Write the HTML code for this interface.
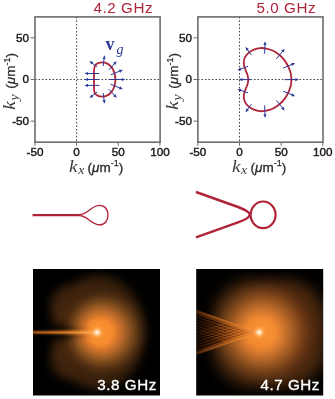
<!DOCTYPE html>
<html><head><meta charset="utf-8"><title>figure</title>
<style>
html,body{margin:0;padding:0;background:#fff;}
svg{display:block;}
.tk{font-family:"Liberation Sans",sans-serif;font-size:11.7px;fill:#1a1a1a;stroke:#1a1a1a;stroke-width:0.42px;}
.ax{fill:#2a2a2a;}
.mi{font-family:"Liberation Serif",serif;font-style:italic;font-size:16px;fill:#3c3c3c;}
.ms{font-family:"Liberation Serif",serif;font-style:italic;font-size:11.5px;fill:#3c3c3c;}
.un{font-family:"Liberation Sans",sans-serif;font-size:13.5px;stroke:#2a2a2a;stroke-width:0.3px;}
.sup{font-family:"Liberation Sans",sans-serif;font-size:9px;stroke:#2a2a2a;stroke-width:0.25px;}
.ti{font-family:"Liberation Sans",sans-serif;font-size:15.2px;letter-spacing:0.6px;fill:#b0243a;}
.lb{font-family:"Liberation Sans",sans-serif;font-size:15.2px;letter-spacing:0.55px;fill:#fff;stroke:#fff;stroke-width:0.35px;}
</style></head><body>
<svg width="335" height="399" viewBox="0 0 335 399">
<defs><radialGradient id="gp1" cx="0.5" cy="0.5" r="0.5" fx="0.4205" fy="0.5"><stop offset="0.0000" stop-color="#f67c23"/><stop offset="0.0208" stop-color="#f67c23"/><stop offset="0.0417" stop-color="#f67c23"/><stop offset="0.0625" stop-color="#f67c23"/><stop offset="0.0833" stop-color="#f67b23"/><stop offset="0.1042" stop-color="#f67b23"/><stop offset="0.1250" stop-color="#f57b23"/><stop offset="0.1458" stop-color="#f57a23"/><stop offset="0.1667" stop-color="#f57a23"/><stop offset="0.1875" stop-color="#f47923"/><stop offset="0.2083" stop-color="#f47822"/><stop offset="0.2292" stop-color="#f37822"/><stop offset="0.2500" stop-color="#f27622"/><stop offset="0.2708" stop-color="#ef7422"/><stop offset="0.2917" stop-color="#eb7121"/><stop offset="0.3125" stop-color="#e56e21"/><stop offset="0.3333" stop-color="#de6a20"/><stop offset="0.3542" stop-color="#d56520"/><stop offset="0.3750" stop-color="#cd601f"/><stop offset="0.3958" stop-color="#c55c1f"/><stop offset="0.4167" stop-color="#bb581e"/><stop offset="0.4375" stop-color="#b3551e"/><stop offset="0.4583" stop-color="#aa521d"/><stop offset="0.4792" stop-color="#a14e1d"/><stop offset="0.5000" stop-color="#984b1c"/><stop offset="0.5208" stop-color="#8f481b"/><stop offset="0.5417" stop-color="#864419"/><stop offset="0.5625" stop-color="#7e4018"/><stop offset="0.5833" stop-color="#763d17"/><stop offset="0.6042" stop-color="#6c3915"/><stop offset="0.6250" stop-color="#643514"/><stop offset="0.6458" stop-color="#5c3112"/><stop offset="0.6667" stop-color="#522d10"/><stop offset="0.6875" stop-color="#4a290f"/><stop offset="0.7083" stop-color="#42250e"/><stop offset="0.7292" stop-color="#3a200c"/><stop offset="0.7500" stop-color="#331d0b"/><stop offset="0.7708" stop-color="#2c190a"/><stop offset="0.7917" stop-color="#251509"/><stop offset="0.8125" stop-color="#1f1208"/><stop offset="0.8333" stop-color="#1a0f07"/><stop offset="0.8542" stop-color="#140c05"/><stop offset="0.8750" stop-color="#100a04"/><stop offset="0.8958" stop-color="#0d0704"/><stop offset="0.9167" stop-color="#090503"/><stop offset="0.9375" stop-color="#070402"/><stop offset="0.9583" stop-color="#050301"/><stop offset="0.9792" stop-color="#030201"/><stop offset="1.0000" stop-color="#000000"/></radialGradient><radialGradient id="ghalo" gradientUnits="userSpaceOnUse" cx="89.20" cy="332.40" r="62"><stop offset="0.0000" stop-color="#4c2a0e"/><stop offset="0.0208" stop-color="#4c2a0e"/><stop offset="0.0417" stop-color="#4c2a0e"/><stop offset="0.0625" stop-color="#4b2a0e"/><stop offset="0.0833" stop-color="#4b2a0e"/><stop offset="0.1042" stop-color="#4b2a0e"/><stop offset="0.1250" stop-color="#4b290e"/><stop offset="0.1458" stop-color="#4b290e"/><stop offset="0.1667" stop-color="#4b290e"/><stop offset="0.1875" stop-color="#4a290e"/><stop offset="0.2083" stop-color="#4a290e"/><stop offset="0.2292" stop-color="#4a290e"/><stop offset="0.2500" stop-color="#4a290e"/><stop offset="0.2708" stop-color="#4a290e"/><stop offset="0.2917" stop-color="#49290e"/><stop offset="0.3125" stop-color="#49290e"/><stop offset="0.3333" stop-color="#49290e"/><stop offset="0.3542" stop-color="#49280e"/><stop offset="0.3750" stop-color="#49280e"/><stop offset="0.3958" stop-color="#48280e"/><stop offset="0.4167" stop-color="#48280e"/><stop offset="0.4375" stop-color="#48280e"/><stop offset="0.4583" stop-color="#47280e"/><stop offset="0.4792" stop-color="#46270e"/><stop offset="0.5000" stop-color="#46270e"/><stop offset="0.5208" stop-color="#45260e"/><stop offset="0.5417" stop-color="#44260d"/><stop offset="0.5625" stop-color="#43250d"/><stop offset="0.5833" stop-color="#42250d"/><stop offset="0.6042" stop-color="#41240d"/><stop offset="0.6250" stop-color="#40240d"/><stop offset="0.6458" stop-color="#3f230d"/><stop offset="0.6667" stop-color="#3e230d"/><stop offset="0.6875" stop-color="#3d220c"/><stop offset="0.7083" stop-color="#3c220c"/><stop offset="0.7292" stop-color="#3b210c"/><stop offset="0.7500" stop-color="#3a210c"/><stop offset="0.7708" stop-color="#39210c"/><stop offset="0.7917" stop-color="#38200c"/><stop offset="0.8125" stop-color="#381f0b"/><stop offset="0.8333" stop-color="#371f0b"/><stop offset="0.8542" stop-color="#361e0b"/><stop offset="0.8750" stop-color="#351e0b"/><stop offset="0.8958" stop-color="#341e0b"/><stop offset="0.9167" stop-color="#331d0b"/><stop offset="0.9375" stop-color="#331d0b"/><stop offset="0.9583" stop-color="#321c0a"/><stop offset="0.9792" stop-color="#311c0a"/><stop offset="1.0000" stop-color="#311b0a"/></radialGradient><radialGradient id="gp2" ><stop offset="0.0000" stop-color="#ee6f20"/><stop offset="0.0208" stop-color="#ee6f20"/><stop offset="0.0417" stop-color="#ee6f20"/><stop offset="0.0625" stop-color="#ee6f20"/><stop offset="0.0833" stop-color="#ee6f20"/><stop offset="0.1042" stop-color="#ee6f20"/><stop offset="0.1250" stop-color="#ed6f20"/><stop offset="0.1458" stop-color="#ed6e20"/><stop offset="0.1667" stop-color="#ed6e20"/><stop offset="0.1875" stop-color="#ed6e20"/><stop offset="0.2083" stop-color="#ec6d20"/><stop offset="0.2292" stop-color="#e96c20"/><stop offset="0.2500" stop-color="#e66b20"/><stop offset="0.2708" stop-color="#e2691f"/><stop offset="0.2917" stop-color="#db661f"/><stop offset="0.3125" stop-color="#d4631f"/><stop offset="0.3333" stop-color="#cc5f1f"/><stop offset="0.3542" stop-color="#c35c1f"/><stop offset="0.3750" stop-color="#ba581e"/><stop offset="0.3958" stop-color="#b2551e"/><stop offset="0.4167" stop-color="#a8511d"/><stop offset="0.4375" stop-color="#9f4e1d"/><stop offset="0.4583" stop-color="#974a1c"/><stop offset="0.4792" stop-color="#8d461a"/><stop offset="0.5000" stop-color="#854319"/><stop offset="0.5208" stop-color="#7c4018"/><stop offset="0.5417" stop-color="#733c16"/><stop offset="0.5625" stop-color="#6b3815"/><stop offset="0.5833" stop-color="#633513"/><stop offset="0.6042" stop-color="#5b3112"/><stop offset="0.6250" stop-color="#532d10"/><stop offset="0.6458" stop-color="#4c2a0f"/><stop offset="0.6667" stop-color="#44260e"/><stop offset="0.6875" stop-color="#3d220c"/><stop offset="0.7083" stop-color="#371f0b"/><stop offset="0.7292" stop-color="#301b0a"/><stop offset="0.7500" stop-color="#2a1809"/><stop offset="0.7708" stop-color="#251509"/><stop offset="0.7917" stop-color="#1f1208"/><stop offset="0.8125" stop-color="#1a0f07"/><stop offset="0.8333" stop-color="#160d06"/><stop offset="0.8542" stop-color="#110a05"/><stop offset="0.8750" stop-color="#0d0804"/><stop offset="0.8958" stop-color="#0a0603"/><stop offset="0.9167" stop-color="#070402"/><stop offset="0.9375" stop-color="#050301"/><stop offset="0.9583" stop-color="#030201"/><stop offset="0.9792" stop-color="#020101"/><stop offset="1.0000" stop-color="#000000"/></radialGradient><radialGradient id="ghalo2" gradientUnits="userSpaceOnUse" cx="269.30" cy="332.40" r="60"><stop offset="0.0000" stop-color="#7f3c15"/><stop offset="0.0208" stop-color="#7f3b15"/><stop offset="0.0417" stop-color="#7e3b15"/><stop offset="0.0625" stop-color="#7d3b15"/><stop offset="0.0833" stop-color="#7c3a14"/><stop offset="0.1042" stop-color="#7b3a14"/><stop offset="0.1250" stop-color="#7a3914"/><stop offset="0.1458" stop-color="#793914"/><stop offset="0.1667" stop-color="#783814"/><stop offset="0.1875" stop-color="#783814"/><stop offset="0.2083" stop-color="#773713"/><stop offset="0.2292" stop-color="#763713"/><stop offset="0.2500" stop-color="#753613"/><stop offset="0.2708" stop-color="#743613"/><stop offset="0.2917" stop-color="#733513"/><stop offset="0.3125" stop-color="#723513"/><stop offset="0.3333" stop-color="#713412"/><stop offset="0.3542" stop-color="#703412"/><stop offset="0.3750" stop-color="#6f3312"/><stop offset="0.3958" stop-color="#6e3312"/><stop offset="0.4167" stop-color="#6c3212"/><stop offset="0.4375" stop-color="#6b3211"/><stop offset="0.4583" stop-color="#693111"/><stop offset="0.4792" stop-color="#683011"/><stop offset="0.5000" stop-color="#663011"/><stop offset="0.5208" stop-color="#642f10"/><stop offset="0.5417" stop-color="#632e10"/><stop offset="0.5625" stop-color="#612d10"/><stop offset="0.5833" stop-color="#5f2d0f"/><stop offset="0.6042" stop-color="#5d2c0f"/><stop offset="0.6250" stop-color="#5b2c0f"/><stop offset="0.6458" stop-color="#5a2b0f"/><stop offset="0.6667" stop-color="#582b0f"/><stop offset="0.6875" stop-color="#562a0f"/><stop offset="0.7083" stop-color="#542a0f"/><stop offset="0.7292" stop-color="#522a0e"/><stop offset="0.7500" stop-color="#50290e"/><stop offset="0.7708" stop-color="#4e290e"/><stop offset="0.7917" stop-color="#4c280e"/><stop offset="0.8125" stop-color="#4a280e"/><stop offset="0.8333" stop-color="#48270e"/><stop offset="0.8542" stop-color="#46270e"/><stop offset="0.8750" stop-color="#44260d"/><stop offset="0.8958" stop-color="#43250d"/><stop offset="0.9167" stop-color="#41240d"/><stop offset="0.9375" stop-color="#3f240d"/><stop offset="0.9583" stop-color="#3e230d"/><stop offset="0.9792" stop-color="#3d220c"/><stop offset="1.0000" stop-color="#3c220c"/></radialGradient>
<radialGradient id="globe"><stop offset="0" stop-color="#5a2a0a"/><stop offset="0.4" stop-color="#482008"/><stop offset="0.7" stop-color="#2e1405"/><stop offset="0.88" stop-color="#100600"/><stop offset="1" stop-color="#000"/></radialGradient>
<radialGradient id="gcore"><stop offset="0" stop-color="#fff" stop-opacity="1"/><stop offset="0.2" stop-color="#ffe6c0" stop-opacity="0.95"/><stop offset="0.45" stop-color="#ffc080" stop-opacity="0.7"/><stop offset="0.75" stop-color="#ffa448" stop-opacity="0.35"/><stop offset="1" stop-color="#fa8c2c" stop-opacity="0"/></radialGradient>
<linearGradient id="lineg" x1="0" x2="1"><stop offset="0" stop-color="#c4661e"/><stop offset="0.5" stop-color="#e27c26"/><stop offset="0.85" stop-color="#f89434"/><stop offset="1" stop-color="#ffb060"/></linearGradient>
<linearGradient id="lineg2" x1="0" x2="1"><stop offset="0" stop-color="#d87424"/><stop offset="0.6" stop-color="#f89838"/><stop offset="0.9" stop-color="#ffc888"/><stop offset="1" stop-color="#fff0d0"/></linearGradient>
<linearGradient id="fang" gradientUnits="userSpaceOnUse" x1="196" x2="260"><stop offset="0" stop-color="#080300"/><stop offset="0.3" stop-color="#2e1204"/><stop offset="0.55" stop-color="#7a3a10"/><stop offset="0.78" stop-color="#c4661e"/><stop offset="1" stop-color="#f08a30"/></linearGradient>
<linearGradient id="fanl" gradientUnits="userSpaceOnUse" x1="196" x2="260"><stop offset="0" stop-color="#3a1c08"/><stop offset="0.3" stop-color="#9a4c16"/><stop offset="0.6" stop-color="#e07c28"/><stop offset="1" stop-color="#ffa850"/></linearGradient>
<linearGradient id="fanb" gradientUnits="userSpaceOnUse" x1="196" x2="260"><stop offset="0" stop-color="#5a2c0c"/><stop offset="0.25" stop-color="#b05c1c"/><stop offset="0.6" stop-color="#ec862c"/><stop offset="1" stop-color="#fca050"/></linearGradient>
<filter id="blur5" color-interpolation-filters="sRGB" x="-50%" y="-50%" width="200%" height="200%"><feGaussianBlur stdDeviation="3.5"/></filter>
<filter id="blur03" color-interpolation-filters="sRGB" filterUnits="userSpaceOnUse" x="190" y="300" width="80" height="70"><feGaussianBlur stdDeviation="0.35"/></filter>
<filter id="blur05" color-interpolation-filters="sRGB" filterUnits="userSpaceOnUse" x="190" y="300" width="80" height="70"><feGaussianBlur stdDeviation="0.8"/></filter>
<filter id="blurH" color-interpolation-filters="sRGB" filterUnits="userSpaceOnUse" x="0" y="235" width="200" height="200"><feGaussianBlur stdDeviation="4.8"/></filter>
<filter id="blurH2" color-interpolation-filters="sRGB" filterUnits="userSpaceOnUse" x="150" y="225" width="220" height="220"><feGaussianBlur stdDeviation="6.5"/></filter>
<filter id="blur1" color-interpolation-filters="sRGB" x="-10%" y="-200%" width="120%" height="500%"><feGaussianBlur stdDeviation="1.0"/></filter>
</defs>
<line x1="76.60" y1="16.90" x2="76.60" y2="142.20" stroke="#222" stroke-width="0.85" stroke-dasharray="1.6,1.9"/><line x1="35.00" y1="79.50" x2="160.10" y2="79.50" stroke="#222" stroke-width="0.85" stroke-dasharray="1.6,1.9"/><rect x="35.00" y="16.90" width="125.10" height="125.30" fill="none" stroke="#6c6c6c" stroke-width="1.6"/><line x1="34.95" y1="142.20" x2="34.95" y2="145.80" stroke="#6c6c6c" stroke-width="1"/><text x="34.95" y="156.3" text-anchor="middle" class="tk">-50</text><line x1="76.60" y1="142.20" x2="76.60" y2="145.80" stroke="#6c6c6c" stroke-width="1"/><text x="76.60" y="156.3" text-anchor="middle" class="tk">0</text><line x1="118.25" y1="142.20" x2="118.25" y2="145.80" stroke="#6c6c6c" stroke-width="1"/><text x="118.25" y="156.3" text-anchor="middle" class="tk">50</text><line x1="159.90" y1="142.20" x2="159.90" y2="145.80" stroke="#6c6c6c" stroke-width="1"/><text x="159.90" y="156.3" text-anchor="middle" class="tk">100</text><line x1="30.60" y1="121.15" x2="35.00" y2="121.15" stroke="#6c6c6c" stroke-width="1"/><text x="29.10" y="124.85" text-anchor="end" class="tk">-50</text><line x1="30.60" y1="79.50" x2="35.00" y2="79.50" stroke="#6c6c6c" stroke-width="1"/><text x="29.10" y="83.20" text-anchor="end" class="tk">0</text><line x1="30.60" y1="37.85" x2="35.00" y2="37.85" stroke="#6c6c6c" stroke-width="1"/><text x="29.10" y="41.55" text-anchor="end" class="tk">50</text><g transform="translate(69.00,171.5)"><text transform="scale(1.2,1)" x="0" y="0" class="ax mi">k</text><text transform="translate(9.2,2.4) scale(1.2,1)" x="0" y="0" class="ax ms">x</text><text x="18.60" y="0" class="ax un">(<tspan style="font-style:italic">μ</tspan>m<tspan class="sup" dy="-5.5">-1</tspan><tspan class="un" dy="5.5">)</tspan></text></g><g transform="translate(15.30,109.7) rotate(-90)"><text transform="scale(1.2,1)" x="0" y="0" class="ax mi">k</text><text transform="translate(9.2,2.4) scale(1.2,1)" x="0" y="0" class="ax ms">y</text><text x="21.00" y="0" class="ax un">(<tspan style="font-style:italic">μ</tspan>m<tspan class="sup" dy="-5.5">-1</tspan><tspan class="un" dy="5.5">)</tspan></text></g><text x="93.40" y="13.1" class="ti">4.2 GHz</text>
<line x1="239.50" y1="16.90" x2="239.50" y2="142.20" stroke="#222" stroke-width="0.85" stroke-dasharray="1.6,1.9"/><line x1="197.90" y1="79.50" x2="323.00" y2="79.50" stroke="#222" stroke-width="0.85" stroke-dasharray="1.6,1.9"/><rect x="197.90" y="16.90" width="125.10" height="125.30" fill="none" stroke="#6c6c6c" stroke-width="1.6"/><line x1="197.85" y1="142.20" x2="197.85" y2="145.80" stroke="#6c6c6c" stroke-width="1"/><text x="197.85" y="156.3" text-anchor="middle" class="tk">-50</text><line x1="239.50" y1="142.20" x2="239.50" y2="145.80" stroke="#6c6c6c" stroke-width="1"/><text x="239.50" y="156.3" text-anchor="middle" class="tk">0</text><line x1="281.15" y1="142.20" x2="281.15" y2="145.80" stroke="#6c6c6c" stroke-width="1"/><text x="281.15" y="156.3" text-anchor="middle" class="tk">50</text><line x1="322.80" y1="142.20" x2="322.80" y2="145.80" stroke="#6c6c6c" stroke-width="1"/><text x="322.80" y="156.3" text-anchor="middle" class="tk">100</text><line x1="193.50" y1="121.15" x2="197.90" y2="121.15" stroke="#6c6c6c" stroke-width="1"/><text x="192.00" y="124.85" text-anchor="end" class="tk">-50</text><line x1="193.50" y1="79.50" x2="197.90" y2="79.50" stroke="#6c6c6c" stroke-width="1"/><text x="192.00" y="83.20" text-anchor="end" class="tk">0</text><line x1="193.50" y1="37.85" x2="197.90" y2="37.85" stroke="#6c6c6c" stroke-width="1"/><text x="192.00" y="41.55" text-anchor="end" class="tk">50</text><g transform="translate(231.90,171.5)"><text transform="scale(1.2,1)" x="0" y="0" class="ax mi">k</text><text transform="translate(9.2,2.4) scale(1.2,1)" x="0" y="0" class="ax ms">x</text><text x="18.60" y="0" class="ax un">(<tspan style="font-style:italic">μ</tspan>m<tspan class="sup" dy="-5.5">-1</tspan><tspan class="un" dy="5.5">)</tspan></text></g><g transform="translate(178.20,109.7) rotate(-90)"><text transform="scale(1.2,1)" x="0" y="0" class="ax mi">k</text><text transform="translate(9.2,2.4) scale(1.2,1)" x="0" y="0" class="ax ms">y</text><text x="21.00" y="0" class="ax un">(<tspan style="font-style:italic">μ</tspan>m<tspan class="sup" dy="-5.5">-1</tspan><tspan class="un" dy="5.5">)</tspan></text></g><text x="256.40" y="13.1" class="ti">5.0 GHz</text>
<path d="M94,79.5 L94,70 C94,65 97,62.3 102,62.3 C110,62.3 115.4,70 115.4,79.5 C115.4,89 110,96.7 102,96.7 C97,96.7 94,94 94,89 Z" fill="none" stroke="#b0243a" stroke-width="1.8"/>
<line x1="99.40" y1="73.50" x2="87.50" y2="73.50" stroke="#2b3a96" stroke-width="1.00"/><polygon points="84.40,73.50 88.00,71.90 88.00,75.10" fill="#2b3a96"/>
<line x1="99.40" y1="79.50" x2="87.50" y2="79.50" stroke="#2b3a96" stroke-width="1.00"/><polygon points="84.40,79.50 88.00,77.90 88.00,81.10" fill="#2b3a96"/>
<line x1="99.40" y1="85.40" x2="87.50" y2="85.40" stroke="#2b3a96" stroke-width="1.00"/><polygon points="84.40,85.40 88.00,83.80 88.00,87.00" fill="#2b3a96"/>
<line x1="97.00" y1="67.00" x2="91.92" y2="62.94" stroke="#2b3a96" stroke-width="1.00"/><polygon points="89.50,61.00 93.31,62.00 91.31,64.50" fill="#2b3a96"/>
<line x1="103.20" y1="66.00" x2="104.13" y2="58.38" stroke="#2b3a96" stroke-width="1.00"/><polygon points="104.50,55.30 105.65,59.07 102.48,58.68" fill="#2b3a96"/>
<line x1="108.80" y1="69.80" x2="114.59" y2="63.57" stroke="#2b3a96" stroke-width="1.00"/><polygon points="116.70,61.30 115.42,65.03 113.08,62.85" fill="#2b3a96"/>
<line x1="110.70" y1="74.80" x2="120.03" y2="70.98" stroke="#2b3a96" stroke-width="1.00"/><polygon points="122.90,69.80 120.18,72.65 118.96,69.68" fill="#2b3a96"/>
<line x1="109.80" y1="79.50" x2="122.30" y2="79.50" stroke="#2b3a96" stroke-width="1.00"/><polygon points="125.40,79.50 121.80,81.10 121.80,77.90" fill="#2b3a96"/>
<line x1="110.70" y1="84.20" x2="120.03" y2="88.02" stroke="#2b3a96" stroke-width="1.00"/><polygon points="122.90,89.20 118.96,89.32 120.18,86.35" fill="#2b3a96"/>
<line x1="108.80" y1="89.20" x2="114.59" y2="95.43" stroke="#2b3a96" stroke-width="1.00"/><polygon points="116.70,97.70 113.08,96.15 115.42,93.97" fill="#2b3a96"/>
<line x1="103.20" y1="93.00" x2="104.13" y2="100.62" stroke="#2b3a96" stroke-width="1.00"/><polygon points="104.50,103.70 102.48,100.32 105.65,99.93" fill="#2b3a96"/>
<line x1="97.00" y1="92.00" x2="91.92" y2="96.06" stroke="#2b3a96" stroke-width="1.00"/><polygon points="89.50,98.00 91.31,94.50 93.31,97.00" fill="#2b3a96"/>
<text x="105.5" y="50.2" fill="#2b3a96" style="font-family:'Liberation Serif',serif;font-weight:bold;font-size:18px">v</text>
<text x="116.6" y="53.6" fill="#2b3a96" style="font-family:'Liberation Serif',serif;font-style:italic;font-size:14px">g</text>
<path d="M248.31,79.62 C248.31,78.12 247.93,76.49 247.56,75.11 C247.18,73.73 246.60,72.82 246.05,71.35 C245.51,69.89 244.67,67.89 244.30,66.34 C243.92,64.80 243.67,63.63 243.80,62.08 C243.92,60.53 244.21,58.65 245.05,57.07 C245.89,55.48 247.35,53.81 248.81,52.56 C250.27,51.30 251.94,50.30 253.82,49.55 C255.70,48.80 258.00,48.21 260.09,48.05 C262.18,47.88 264.26,48.13 266.35,48.55 C268.44,48.96 270.53,49.55 272.62,50.55 C274.71,51.55 276.92,52.97 278.88,54.56 C280.85,56.15 282.85,58.11 284.40,60.08 C285.94,62.04 287.11,64.17 288.16,66.34 C289.20,68.51 290.12,70.89 290.66,73.11 C291.21,75.32 291.42,77.45 291.42,79.62 C291.42,81.80 291.21,83.93 290.66,86.14 C290.12,88.35 289.20,90.74 288.16,92.91 C287.11,95.08 285.94,97.21 284.40,99.17 C282.85,101.14 280.85,103.10 278.88,104.69 C276.92,106.27 274.71,107.69 272.62,108.70 C270.53,109.70 268.44,110.28 266.35,110.70 C264.26,111.12 262.18,111.37 260.09,111.20 C258.00,111.04 255.70,110.45 253.82,109.70 C251.94,108.95 250.27,107.94 248.81,106.69 C247.35,105.44 245.89,103.77 245.05,102.18 C244.21,100.59 243.92,98.71 243.80,97.17 C243.67,95.62 243.92,94.45 244.30,92.91 C244.67,91.36 245.51,89.36 246.05,87.89 C246.60,86.43 247.18,85.51 247.56,84.14 C247.93,82.76 248.31,81.13 248.31,79.62 Z" fill="none" stroke="#b0243a" stroke-width="1.8"/>
<line x1="251.32" y1="55.06" x2="247.36" y2="49.56" stroke="#2b3a96" stroke-width="1.00"/><polygon points="245.55,47.04 248.95,49.03 246.35,50.90" fill="#2b3a96"/>
<line x1="251.32" y1="104.19" x2="247.36" y2="109.69" stroke="#2b3a96" stroke-width="1.00"/><polygon points="245.55,112.21 246.35,108.35 248.95,110.22" fill="#2b3a96"/>
<line x1="264.60" y1="53.81" x2="264.98" y2="44.38" stroke="#2b3a96" stroke-width="1.00"/><polygon points="265.10,41.28 266.56,44.94 263.36,44.81" fill="#2b3a96"/>
<line x1="264.60" y1="105.44" x2="264.98" y2="114.87" stroke="#2b3a96" stroke-width="1.00"/><polygon points="265.10,117.97 263.36,114.44 266.56,114.31" fill="#2b3a96"/>
<line x1="276.38" y1="58.82" x2="282.68" y2="51.19" stroke="#2b3a96" stroke-width="1.00"/><polygon points="284.65,48.80 283.59,52.59 281.12,50.56" fill="#2b3a96"/>
<line x1="276.38" y1="100.43" x2="282.68" y2="108.06" stroke="#2b3a96" stroke-width="1.00"/><polygon points="284.65,110.45 281.12,108.69 283.59,106.66" fill="#2b3a96"/>
<line x1="283.15" y1="68.10" x2="292.31" y2="64.28" stroke="#2b3a96" stroke-width="1.00"/><polygon points="295.18,63.08 292.47,65.94 291.24,62.99" fill="#2b3a96"/>
<line x1="283.15" y1="91.15" x2="292.31" y2="94.97" stroke="#2b3a96" stroke-width="1.00"/><polygon points="295.18,96.17 291.24,96.26 292.47,93.30" fill="#2b3a96"/>
<line x1="284.65" y1="79.62" x2="295.83" y2="79.62" stroke="#2b3a96" stroke-width="1.00"/><polygon points="298.93,79.62 295.33,81.22 295.33,78.02" fill="#2b3a96"/>
<line x1="248.06" y1="66.34" x2="240.45" y2="69.06" stroke="#2b3a96" stroke-width="1.00"/><polygon points="237.53,70.10 240.38,67.38 241.46,70.40" fill="#2b3a96"/>
<line x1="248.06" y1="92.91" x2="240.45" y2="90.19" stroke="#2b3a96" stroke-width="1.00"/><polygon points="237.53,89.15 241.46,88.85 240.38,91.87" fill="#2b3a96"/>
<line x1="251.32" y1="79.62" x2="241.88" y2="79.62" stroke="#2b3a96" stroke-width="1.00"/><polygon points="238.78,79.62 242.38,78.02 242.38,81.22" fill="#2b3a96"/>
<path d="M32.5,214.7 L79,214.7 C88,214.7 91,205.4 99.6,205.4 C105,205.4 108,209.8 108,215.1 C108,220.4 105,224.8 99.6,224.8 C91,224.8 88,215.5 79,215.5 L32.5,215.5" fill="none" stroke="#b0243a" stroke-width="1.4" stroke-linejoin="round"/>
<path d="M196,192 L238,207 C244,209.2 249.8,211.6 249.8,214.7 C249.8,217.8 244,220.2 238,222.4 L196,237.4" fill="none" stroke="#b0243a" stroke-width="2.4" stroke-linejoin="round"/>
<ellipse cx="263.1" cy="214.8" rx="12.5" ry="13.3" fill="none" stroke="#b0243a" stroke-width="2.2"/>
<clipPath id="clip33"><rect x="33.00" y="269.00" width="127.00" height="126.40"/></clipPath><g clip-path="url(#clip33)" style="isolation:isolate"><rect x="33.00" y="269.00" width="127.00" height="126.40" fill="#000"/><circle cx="105.20" cy="332.40" r="44" fill="url(#gp1)"/><polygon points="92.20,332.40 19.00,308.40 19.00,356.40" fill="#000" opacity="0.42" filter="url(#blur5)"/><g style="mix-blend-mode:screen" filter="url(#blurH)"><rect x="3.00" y="239.00" width="187.00" height="186.40" fill="#000"/><ellipse cx="98.20" cy="332.40" rx="47" ry="57" fill="url(#ghalo)"/><circle cx="72.20" cy="306.40" r="22" fill="url(#ghalo)"/><circle cx="72.20" cy="358.40" r="22" fill="url(#ghalo)"/><polygon points="83.20,332.40 19.00,313.40 19.00,351.40" fill="#000"/></g><polygon points="31.00,331.30 97.20,330.00 97.20,334.80 31.00,333.50" fill="url(#lineg)" filter="url(#blur1)" opacity="0.92"/><rect x="33.00" y="331.90" width="64.20" height="1.0" fill="url(#lineg2)" opacity="0.6"/><circle cx="97.20" cy="332.40" r="7.5" fill="url(#gcore)"/></g><text x="156.80" y="389.6" text-anchor="end" class="lb">3.8 GHz</text>
<clipPath id="clip196"><rect x="196.20" y="269.00" width="127.00" height="126.40"/></clipPath><g clip-path="url(#clip196)" style="isolation:isolate"><rect x="196.20" y="269.00" width="127.00" height="126.40" fill="#000"/><circle cx="261.30" cy="332.40" r="54" fill="url(#gp2)"/><g style="mix-blend-mode:screen" filter="url(#blurH2)"><rect x="156.20" y="229.00" width="207.00" height="206.40" fill="#000"/><rect x="212.30" y="279.40" width="114" height="108" rx="40" ry="40" fill="url(#ghalo2)"/></g><clipPath id="wedge196"><polygon points="259.30,332.40 196.20,309.60 196.20,355.20"/></clipPath><polygon points="259.30,332.40 196.20,311.10 196.20,353.70" fill="url(#fang)" opacity="0.95"/><g clip-path="url(#wedge196)"><g filter="url(#blur03)"><line x1="194.20" y1="310.42" x2="264.30" y2="334.09" stroke="url(#fanb)" stroke-width="3.00" opacity="0.95" filter="url(#blur05)"/><line x1="194.20" y1="354.38" x2="264.30" y2="330.71" stroke="url(#fanb)" stroke-width="3.00" opacity="0.95" filter="url(#blur05)"/><line x1="194.20" y1="313.32" x2="264.30" y2="336.99" stroke="url(#fanl)" stroke-width="0.75" opacity="0.75"/><line x1="194.20" y1="351.48" x2="264.30" y2="327.81" stroke="url(#fanl)" stroke-width="0.75" opacity="0.75"/><line x1="194.20" y1="316.22" x2="264.30" y2="339.89" stroke="url(#fanl)" stroke-width="0.75" opacity="0.72"/><line x1="194.20" y1="348.58" x2="264.30" y2="324.91" stroke="url(#fanl)" stroke-width="0.75" opacity="0.72"/><line x1="194.20" y1="319.12" x2="264.30" y2="342.79" stroke="url(#fanl)" stroke-width="0.75" opacity="0.69"/><line x1="194.20" y1="345.68" x2="264.30" y2="322.01" stroke="url(#fanl)" stroke-width="0.75" opacity="0.69"/><line x1="194.20" y1="322.02" x2="264.30" y2="345.69" stroke="url(#fanl)" stroke-width="0.75" opacity="0.66"/><line x1="194.20" y1="342.78" x2="264.30" y2="319.11" stroke="url(#fanl)" stroke-width="0.75" opacity="0.66"/><line x1="194.20" y1="324.92" x2="264.30" y2="348.59" stroke="url(#fanl)" stroke-width="0.75" opacity="0.63"/><line x1="194.20" y1="339.88" x2="264.30" y2="316.21" stroke="url(#fanl)" stroke-width="0.75" opacity="0.63"/><line x1="194.20" y1="327.82" x2="264.30" y2="351.49" stroke="url(#fanl)" stroke-width="0.75" opacity="0.60"/><line x1="194.20" y1="336.98" x2="264.30" y2="313.31" stroke="url(#fanl)" stroke-width="0.75" opacity="0.60"/><line x1="194.20" y1="330.72" x2="264.30" y2="354.39" stroke="url(#fanl)" stroke-width="0.75" opacity="0.57"/><line x1="194.20" y1="334.08" x2="264.30" y2="310.41" stroke="url(#fanl)" stroke-width="0.75" opacity="0.57"/></g></g><circle cx="259.30" cy="332.40" r="7.5" fill="url(#gcore)"/></g><text x="320.00" y="389.6" text-anchor="end" class="lb">4.7 GHz</text>
</svg>
</body></html>
